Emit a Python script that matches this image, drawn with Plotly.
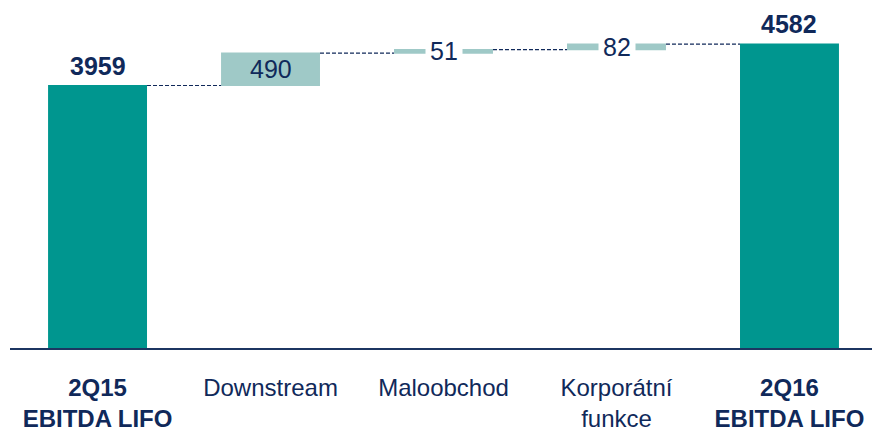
import plotly.graph_objects as go

# EBITDA LIFO bridge, 2Q15 -> 2Q16
categories = ["<b>2Q15<br>EBITDA LIFO</b>", "Downstream", "Maloobchod",
              "Korporátní<br>funkce", "<b>2Q16<br>EBITDA LIFO</b>"]
measures = ["absolute", "relative", "relative", "relative", "total"]
values = [3959, 490, 51, 82, 4582]

TEAL = "#00968F"
LIGHT = "#9FC9C7"
NAVY = "#10295A"
FONT = "Arial, Liberation Sans, sans-serif"

fig = go.Figure()
fig.add_trace(go.Waterfall(
    x=categories,
    y=[v if m != "total" else 0 for v, m in zip(values, measures)],
    measure=measures,
    totals=dict(marker=dict(color=TEAL, line=dict(width=0))),
    increasing=dict(marker=dict(color=LIGHT, line=dict(width=0))),
    decreasing=dict(marker=dict(color=LIGHT, line=dict(width=0))),
    connector=dict(mode="between", line=dict(color=NAVY, width=1.2, dash="4px,2px")),
    hoverinfo="skip",
))

# value labels: totals above the bar, steps centred on the step with a white backing
running = 0
for cat, m, v in zip(categories, measures, values):
    if m == "absolute":
        running = v
        fig.add_annotation(x=cat, y=v, text=f"<b>{v}</b>", showarrow=False,
                           yanchor="bottom", yshift=4,
                           font=dict(size=25, color=NAVY, family=FONT))
    elif m == "total":
        fig.add_annotation(x=cat, y=running, text=f"<b>{running}</b>", showarrow=False,
                           yanchor="bottom", yshift=4,
                           font=dict(size=25, color=NAVY, family=FONT))
    else:
        mid = running + v / 2
        running += v
        big = v > 200
        fig.add_annotation(x=cat, y=mid, text=str(v), showarrow=False,
                           yanchor="middle",
                           bgcolor="rgba(0,0,0,0)" if big else "white",
                           borderpad=1 if big else 4,
                           font=dict(size=25, color=NAVY, family=FONT))

fig.update_layout(
    width=872, height=434,
    margin=dict(l=10, r=0, t=0, b=86),
    paper_bgcolor="white", plot_bgcolor="white",
    showlegend=False,
    waterfallgap=0.428,
    font=dict(family=FONT, color=NAVY, size=24),
    xaxis=dict(type="category", range=[-0.506, 4.477], automargin=False,
               showline=True, linecolor="#1C3561", linewidth=2,
               showgrid=False, zeroline=False, ticks="",
               tickfont=dict(size=24, color=NAVY, family=FONT),
               ticklabelstandoff=17),
    yaxis=dict(visible=False, range=[0, 5249], showgrid=False, zeroline=False),
)

fig.write_html("out.html")
